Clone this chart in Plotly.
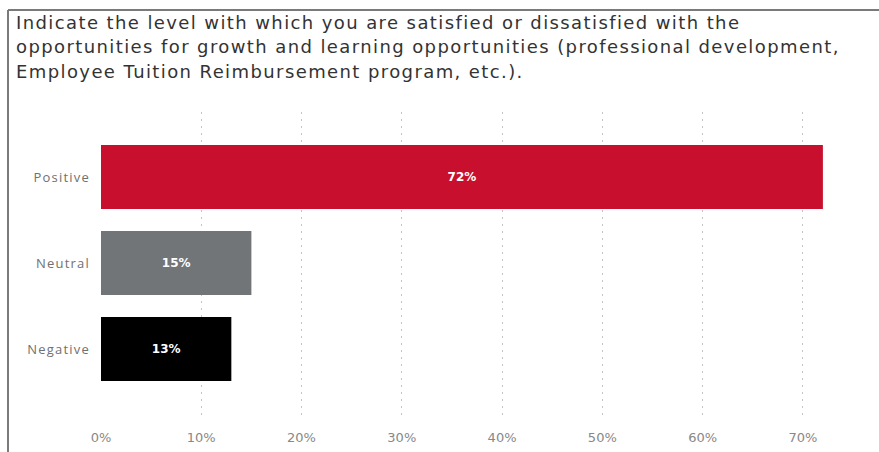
import plotly.graph_objects as go

# Survey response shares
categories = ["Positive", "Neutral", "Negative"]
shares = [0.72, 0.15, 0.13]
bar_colors = ["#C8102E", "#727578", "#000000"]
title_lines = [
    "Indicate the level with which you are satisfied or dissatisfied with the",
    "opportunities for growth and learning opportunities (professional development,",
    "Employee Tuition Reimbursement program, etc.).",
]

W, H = 879, 452
ML, MR, MT, MB = 101, 19, 112, 32
PW, PH = W - ML - MR, H - MT - MB


def px_x(px):
    return (px - ML) / PW


def px_y(py):
    return (H - MB - py) / PH


def spaced(text, px):
    return f"<span style='letter-spacing:{px}px'>{text}</span>"


fig = go.Figure(
    go.Bar(
        x=shares,
        y=categories,
        orientation="h",
        marker=dict(color=bar_colors, line=dict(width=0)),
        text=[f"{v:.0%}" for v in shares],
        textposition="inside",
        insidetextanchor="middle",
        textfont=dict(family="DejaVu Sans", size=12, color="#ffffff", weight="bold"),
        hoverinfo="skip",
    )
)

annotations = []
for i, line in enumerate(title_lines):
    annotations.append(
        dict(
            text=spaced(line, 1.4),
            xref="paper", yref="paper",
            x=px_x(14), y=px_y(22.5 + i * 24.5),
            xanchor="left", yanchor="middle",
            showarrow=False,
            font=dict(family="DejaVu Sans", size=18, color="#333333"),
        )
    )

border = dict(color="#7a7a7a", width=2)
shapes = [
    dict(type="line", xref="paper", yref="paper",
         x0=px_x(8), x1=px_x(8), y0=px_y(10), y1=px_y(460), line=border),
    dict(type="line", xref="paper", yref="paper",
         x0=px_x(8), x1=px_x(890), y0=px_y(10), y1=px_y(10), line=border),
]

fig.update_layout(
    width=W, height=H,
    margin=dict(l=ML, r=MR, t=MT, b=MB, autoexpand=False),
    paper_bgcolor="#ffffff",
    plot_bgcolor="#ffffff",
    bargap=0.256,
    showlegend=False,
    annotations=annotations,
    shapes=shapes,
    xaxis=dict(
        range=[0, 0.757],
        dtick=0.1,
        tickformat=".0%",
        showgrid=True,
        gridcolor="#c4c4c4",
        griddash="2px,5px",
        gridwidth=1,
        zeroline=False,
        showline=False,
        ticks="",
        ticklabelstandoff=8,
        automargin=False,
        tickfont=dict(family="DejaVu Sans", size=13, color="#888888"),
        fixedrange=True,
    ),
    yaxis=dict(
        type="category",
        categoryorder="array",
        categoryarray=categories,
        tickvals=categories,
        ticktext=[spaced(c, 1.2) for c in categories],
        range=[2.826, -0.756],
        showgrid=False,
        zeroline=False,
        showline=False,
        ticks="",
        ticklabelstandoff=10,
        automargin=False,
        tickfont=dict(family="Open Sans", size=13, color="#707070"),
        fixedrange=True,
    ),
)

fig.write_html("out.html")
